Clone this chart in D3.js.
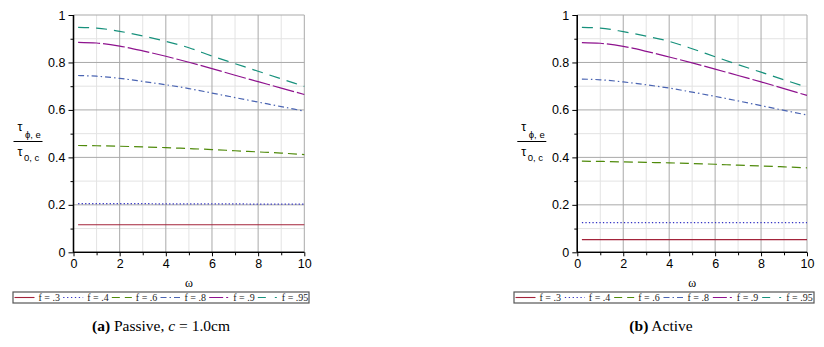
<!DOCTYPE html>
<html lang="en">
<head>
	<meta charset="utf-8">
	<title>tau ratio vs omega</title>
	<script src="https://d3js.org/d3.v7.min.js"></script>
	<style>
		body { margin: 0; background: #fff; }
	</style>
</head>
<body>
	<script>
		// omega sample points
		var omega = [0.2, 1, 2, 3, 4, 5, 6, 7, 8, 9, 10];
		var fLabels = ["f = .3", "f = .4", "f = .6", "f = .8", "f = .9", "f = .95"];

		// (a) Passive
		var passive_f3 = [0.116, 0.116, 0.116, 0.116, 0.116, 0.116, 0.116, 0.116, 0.116, 0.116, 0.116];
		var passive_f4 = [0.205, 0.205, 0.205, 0.205, 0.204, 0.204, 0.204, 0.204, 0.203, 0.203, 0.203];
		var passive_f6 = [0.450, 0.449, 0.447, 0.444, 0.441, 0.437, 0.433, 0.428, 0.423, 0.418, 0.412];
		var passive_f8 = [0.745, 0.742, 0.733, 0.720, 0.706, 0.690, 0.671, 0.652, 0.633, 0.614, 0.595];
		var passive_f9 = [0.885, 0.882, 0.869, 0.849, 0.826, 0.801, 0.774, 0.746, 0.719, 0.692, 0.665];
		var passive_f95 = [0.948, 0.945, 0.931, 0.912, 0.889, 0.862, 0.827, 0.795, 0.763, 0.731, 0.699];

		// (b) Active
		var active_f3 = [0.053, 0.053, 0.053, 0.053, 0.053, 0.053, 0.053, 0.053, 0.053, 0.053, 0.053];
		var active_f4 = [0.125, 0.125, 0.125, 0.125, 0.125, 0.125, 0.125, 0.125, 0.125, 0.125, 0.125];
		var active_f6 = [0.384, 0.383, 0.381, 0.379, 0.377, 0.374, 0.371, 0.367, 0.364, 0.360, 0.356];
		var active_f8 = [0.730, 0.727, 0.718, 0.706, 0.692, 0.675, 0.657, 0.638, 0.618, 0.598, 0.579];
		var active_f9 = [0.884, 0.881, 0.868, 0.847, 0.823, 0.798, 0.772, 0.745, 0.718, 0.690, 0.661];
		var active_f95 = [0.948, 0.945, 0.930, 0.911, 0.889, 0.858, 0.824, 0.791, 0.759, 0.727, 0.696];

		var xTicks = [0, 2, 4, 6, 8, 10];
		var yTicks = [0, 0.2, 0.4, 0.6, 0.8, 1];

		// line styles for each f
		var colors = ["#a3233a", "#3434c4", "#4f8a0a", "#4a64b2", "#8e128e", "#17917c"];
		var dashes = [null, "1.3,2.2", "9,5", "6,3,1.5,3", "22,3", "11,7"];
		var legendDashes = [null, "1.3,2.6", "8,5", "6,3,1.5,3", "14,3,2,3", "8,9,2,3"];

		var svg = d3.select("body").append("svg")
			.attr("width", 824)
			.attr("height", 347);

		function drawPanel(left, right, series, legendX, legendW, captionX, captionParts) {
			var x = d3.scaleLinear().domain([0, 10]).range([left, right]);
			var y = d3.scaleLinear().domain([0, 1]).range([252.3, 15]);
			var g = svg.append("g");

			// minor grid
			g.selectAll(".vminor").data(d3.range(1, 10, 2)).enter().append("line")
				.attr("x1", d => x(d)).attr("x2", d => x(d))
				.attr("y1", y(0)).attr("y2", y(1))
				.attr("stroke", "#e3e3e3").attr("stroke-width", 1);
			g.selectAll(".hminor").data(d3.range(0.1, 1, 0.2)).enter().append("line")
				.attr("x1", x(0)).attr("x2", x(10))
				.attr("y1", d => y(d)).attr("y2", d => y(d))
				.attr("stroke", "#e3e3e3").attr("stroke-width", 1);
			// major grid
			g.selectAll(".vmajor").data([2, 4, 6, 8, 10]).enter().append("line")
				.attr("x1", d => x(d)).attr("x2", d => x(d))
				.attr("y1", y(0)).attr("y2", y(1))
				.attr("stroke", "#a9a9a9").attr("stroke-width", 1);
			g.selectAll(".hmajor").data([0.2, 0.4, 0.6, 0.8, 1]).enter().append("line")
				.attr("x1", x(0)).attr("x2", x(10))
				.attr("y1", d => y(d)).attr("y2", d => y(d))
				.attr("stroke", "#a9a9a9").attr("stroke-width", 1);

			// curves
			var line = d3.line()
				.x((d, i) => x(omega[i]))
				.y(d => y(d))
				.curve(d3.curveMonotoneX);
			series.forEach(function (s, k) {
				g.append("path")
					.attr("d", line(s))
					.attr("fill", "none")
					.attr("stroke", colors[k])
					.attr("stroke-width", 1.2)
					.attr("stroke-dasharray", dashes[k]);
			});

			// axes
			var xAxis = d3.axisBottom(x).tickValues(xTicks).tickSize(4).tickFormat(d3.format("d"));
			var xMinor = d3.axisBottom(x).tickValues(d3.range(1, 10, 2)).tickSize(3).tickFormat("");
			var yAxis = d3.axisLeft(y).tickValues(yTicks).tickSize(5).tickFormat(d => d === 0 || d === 1 ? d : d3.format(".1f")(d));
			var yMinor = d3.axisLeft(y).tickValues(d3.range(0.1, 1, 0.2)).tickSize(3).tickFormat("");

			[xAxis, xMinor].forEach(function (a) {
				var ax = g.append("g").attr("transform", "translate(0," + y(0) + ")").call(a);
				ax.select(".domain").attr("stroke", "#000").attr("stroke-width", 1.3).attr("d", "M" + x(0) + ",0H" + x(10));
			});
			[yAxis, yMinor].forEach(function (a) {
				var ax = g.append("g").attr("transform", "translate(" + x(0) + ",0)").call(a);
				ax.select(".domain").attr("stroke", "#000").attr("stroke-width", 1.3).attr("d", "M0," + y(0) + "V" + y(1));
			});
			g.selectAll(".tick text")
				.attr("font-family", "'Liberation Sans', Arial, sans-serif")
				.attr("font-size", 12.5)
				.attr("fill", "#000");
			g.selectAll(".tick line").attr("stroke", "#000");

			// y label as fraction
			var lab = g.append("g")
				.attr("font-family", "'Liberation Sans', Arial, sans-serif")
				.attr("fill", "#000");
			var lx = left - 60;
			lab.append("text").attr("x", lx + 4).attr("y", 131).attr("font-size", 12.5).text("τ");
			lab.append("text").attr("x", lx + 11.5).attr("y", 137.5).attr("font-size", 9.5).text("ϕ, e");
			lab.append("line").attr("x1", lx).attr("x2", lx + 29).attr("y1", 141.5).attr("y2", 141.5)
				.attr("stroke", "#000").attr("stroke-width", 1);
			lab.append("text").attr("x", lx + 4).attr("y", 156).attr("font-size", 12.5).text("τ");
			lab.append("text").attr("x", lx + 10.5).attr("y", 161).attr("font-size", 9.5).text("0, c");

			// x label
			g.append("text")
				.attr("x", (left + right) / 2).attr("y", 287)
				.attr("text-anchor", "middle")
				.attr("font-family", "'Liberation Serif', 'Times New Roman', serif")
				.attr("font-size", 12)
				.text("ω");

			// legend
			var leg = g.append("g").attr("transform", "translate(" + legendX + ",292)");
			leg.append("rect").attr("width", legendW).attr("height", 11)
				.attr("fill", "#fff").attr("stroke", "#555").attr("stroke-width", 1.2);
			var step = (legendW - 4) / 6;
			fLabels.forEach(function (t, k) {
				var ix = 1.5 + k * step;
				leg.append("line")
					.attr("x1", ix).attr("x2", ix + 20)
					.attr("y1", 5.5).attr("y2", 5.5)
					.attr("stroke", colors[k]).attr("stroke-width", 1.1)
					.attr("stroke-dasharray", legendDashes[k]);
				leg.append("text")
					.attr("x", ix + 24).attr("y", 8.8)
					.attr("font-family", "'Liberation Serif', 'Times New Roman', serif")
					.attr("font-size", 10)
					.attr("fill", "#222")
					.text(t);
			});

			// caption
			var cap = g.append("text")
				.attr("x", captionX).attr("y", 331)
				.attr("text-anchor", "middle")
				.attr("font-family", "'Liberation Serif', 'Times New Roman', serif")
				.attr("font-size", 15.5)
				.attr("fill", "#000");
			captionParts.forEach(function (p) {
				cap.append("tspan")
					.attr("font-weight", p.bold ? "bold" : null)
					.attr("font-style", p.italic ? "italic" : null)
					.text(p.t);
			});
		}

		drawPanel(73.5, 304.3,
			[passive_f3, passive_f4, passive_f6, passive_f8, passive_f9, passive_f95],
			13, 296, 161,
			[{ t: "(a)", bold: true }, { t: " Passive, " }, { t: "c", italic: true }, { t: " = 1.0cm" }]);

		drawPanel(577.3, 807,
			[active_f3, active_f4, active_f6, active_f8, active_f9, active_f95],
			514, 300, 661,
			[{ t: "(b)", bold: true }, { t: " Active" }]);
	</script>
</body>
</html>
